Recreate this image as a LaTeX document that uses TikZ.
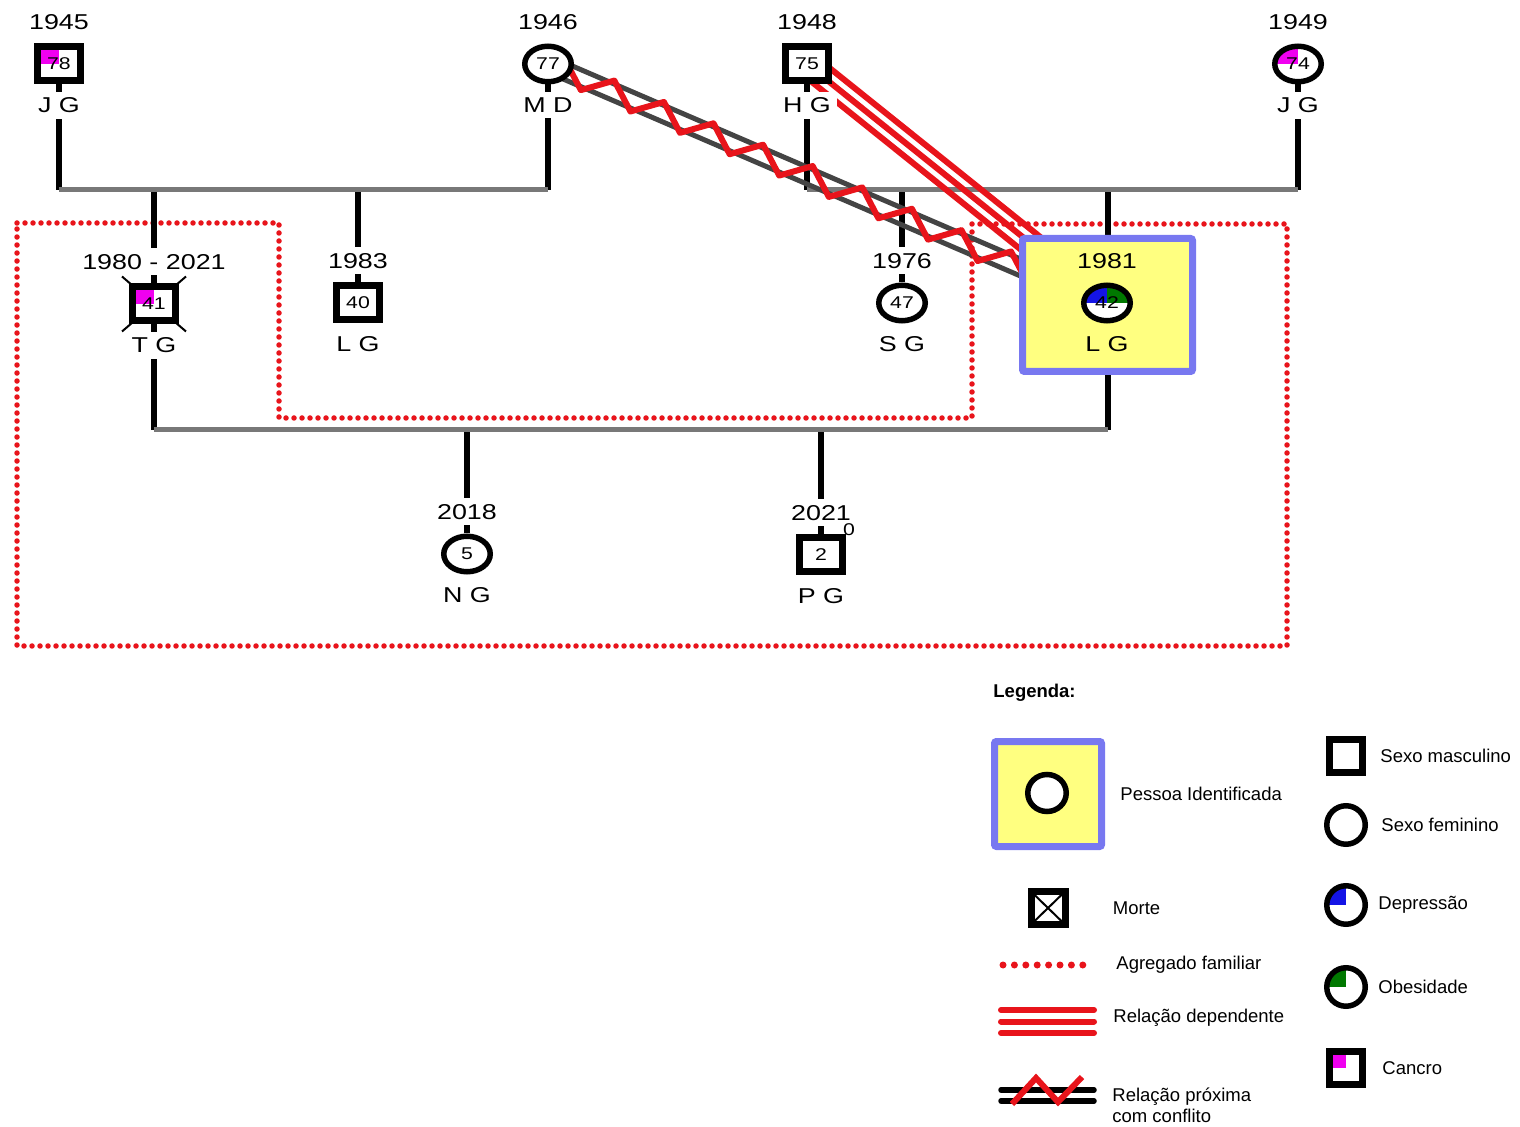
\documentclass[tikz,border=0pt]{standalone}
\usepackage{fontspec}
\setmainfont{Liberation Sans}
\newfontfamily\widefont[FakeStretch=1.25]{Liberation Sans}
\usepackage{tikz}
\usetikzlibrary{shapes.geometric, positioning, calc, backgrounds, decorations.pathmorphing}
\definecolor{famred}{RGB}{232,20,27}
\definecolor{unioncol}{RGB}{120,120,120}
\definecolor{closegray}{RGB}{68,68,68}
\definecolor{idfill}{RGB}{255,255,128}
\definecolor{iddraw}{RGB}{120,120,240}
\definecolor{cancmag}{RGB}{240,0,240}
\definecolor{deprblue}{RGB}{20,20,230}
\definecolor{obesgreen}{RGB}{0,120,0}
\newcommand{\labfont}{\widefont\fontsize{10.75pt}{12pt}\selectfont}
\newcommand{\agefont}{\widefont\fontsize{8.5pt}{10pt}\selectfont}
\newcommand{\legfont}{\fontsize{9.25pt}{10.5pt}\selectfont}
\tikzset{
  male/.style={rectangle, draw=black, fill=white, line width=3.5pt,
    minimum width=21.5pt, minimum height=17pt, inner sep=0pt, font=\agefont},
  female/.style={ellipse, draw=black, fill=white, line width=2.75pt,
    minimum width=23.25pt, minimum height=17.75pt, inner sep=0pt, font=\agefont},
  tlq/.style={path picture={\fill[#1] (path picture bounding box.center)
    rectangle (path picture bounding box.north west);}},
  tltrq/.style 2 args={path picture={
    \fill[#1] (path picture bounding box.center) rectangle (path picture bounding box.north west);
    \fill[#2] (path picture bounding box.center) rectangle (path picture bounding box.north east);}},
  dead/.style={path picture={\draw[line width=1pt]
    (path picture bounding box.north west) -- (path picture bounding box.south east)
    (path picture bounding box.north east) -- (path picture bounding box.south west);}},
  idframe/.style={rectangle, draw=iddraw, fill=idfill, line width=3.5pt, rounded corners=1pt},
  yearlab/.style={above=3.9pt of #1, fill=white, inner sep=3pt, font=\labfont},
  namelab/.style={below=3.4pt of #1, fill=white, inner sep=3pt, font=\labfont},
  kin/.style={black, line width=3pt},
  union/.style={unioncol, line width=2.5pt},
  household/.style={famred, line width=2.75pt, line cap=round, dash pattern=on 0pt off 4pt},
  depline/.style={famred, line width=3pt},
  closeline/.style={closegray, line width=2.5pt},
  conflict/.style={famred, line width=3pt, line join=round, decorate,
    decoration={zigzag, segment length=27pt, amplitude=5.5pt}},
  legtext/.style={font=\legfont, inner sep=0pt, anchor=west, align=left}
}
\begin{document}
\begin{tikzpicture}[x=0.5pt, y=-0.5pt]
  \useasboundingbox (0,0) rectangle (1520,1127);

  % Grandparents
  \node[male, tlq=cancmag] (jg1) at (59,64) {78};
  \node[female] (md) at (548,64) {77};
  \node[male] (hg) at (807,64) {75};
  \node[female, tlq=cancmag] (jg2) at (1298,64) {74};
  \node[yearlab=jg1] (jg1Y) {1945};
  \node[yearlab=md] (mdY) {1946};
  \node[yearlab=hg] (hgY) {1948};
  \node[yearlab=jg2] (jg2Y) {1949};
  \node[namelab=jg1] (jg1N) {J G};
  \node[namelab=md] (mdN) {M D};
  \node[namelab=hg] (hgN) {H G};
  \node[namelab=jg2] (jg2N) {J G};

  % Children
  \node[male, tlq=cancmag] (tg) at (154,304) {41};
  \node[male] (lgb) at (358,303) {40};
  \node[female] (sg) at (902,303) {47};
  \node[idframe, minimum width=85pt, minimum height=66.5pt] (lgid) at (1107.5,305) {};
  \node[female, tltrq={deprblue}{obesgreen}] (lg) at (1107,303) {42};
  \node[yearlab=tg] (tgY) {1980 - 2021};
  \node[yearlab=lgb] (lgbY) {1983};
  \node[yearlab=sg] (sgY) {1976};
  \node[yearlab=lg, fill=none] (lgY) {1981};
  \node[namelab=tg] (tgN) {T G};
  \node[namelab=lgb] (lgbN) {L G};
  \node[namelab=sg] (sgN) {S G};
  \node[namelab=lg, fill=none] (lgN) {L G};

  % Grandchildren
  \node[female] (ng) at (467,554) {5};
  \node[male] (pg) at (821,555) {2};
  \node[yearlab=ng] (ngY) {2018};
  \node[yearlab=pg] (pgY) {2021};
  \node[namelab=ng] (ngN) {N G};
  \node[namelab=pg] (pgN) {P G};
  \node[font=\agefont, inner sep=0pt] (pgZ) at (849,530) {0};

  \begin{pgfonlayer}{background}
    \coordinate (bar1) at (0,190);
    \coordinate (bar2) at (0,430);
    % Household
    \draw[household] (17,223) -| (279,418) -| (972,224) -| (1287,646) -| cycle;
    % Lines of descent
    \foreach \p in {jg1, md, hg, jg2} \draw[kin] (\p) -- (\p |- bar1);
    \foreach \c in {tg, lgb, sg, lgid} \draw[kin] (\c |- bar1) -- (\c);
    \foreach \p in {tg, lgid} \draw[kin] (\p) -- (\p |- bar2);
    \foreach \c in {ng, pg} \draw[kin] (\c |- bar2) -- (\c);
    \draw[union] (jg1 |- bar1) -- (md |- bar1);
    \draw[union] (hg |- bar1) -- (jg2 |- bar1);
    \draw[union] (tg |- bar2) -- (lgid |- bar2);
    % Relations
    \foreach \s in {-3.9pt, 3.9pt}
      \draw[closeline] ($(md)!\s!90:(lgid)$) -- ($(lgid)!\s!-90:(md)$);
    \draw[conflict] (md.center) -- (lgid.center);
    \foreach \s in {-5.5pt, 0pt, 5.5pt}
      \draw[depline] ($(hg)!\s!90:(lgid)$) -- ($(lgid)!\s!-90:(hg)$);
    % Death cross
    \draw[line width=1pt] ($(tg)+(-32,-27.5)$) -- ($(tg)+(32,27.5)$)
      ($(tg)+(32,-27.5)$) -- ($(tg)+(-32,27.5)$);
  \end{pgfonlayer}

  % Legend
  \node[legtext, font=\legfont\bfseries] (legT) at (993,693) {Legenda:};
  \node[idframe, minimum width=53.5pt, minimum height=52.5pt] (legid) at (1048,794) {};
  \node[female, minimum width=19.25pt, minimum height=18.5pt] (legidc) at (1047,793) {};
  \node[legtext, right=7.5pt of legid] (legidT) {Pessoa Identificada};
  \node[male, minimum width=16.5pt, minimum height=16.5pt] (legm) at (1346,756) {};
  \node[legtext, right=7pt of legm] (legmT) {Sexo masculino};
  \node[female, minimum width=19.25pt, minimum height=19.25pt] (legf) at (1346,825) {};
  \node[legtext, right=6.5pt of legf] (legfT) {Sexo feminino};
  \node[male, dead, minimum width=17pt, minimum height=16.5pt] (legd) at (1048,908) {};
  \node[legtext, right=22pt of legd] (legdT) {Morte};
  \node[female, tlq=deprblue, minimum width=19.25pt, minimum height=19.25pt] (legdep) at (1346,905) {};
  \node[legtext, right=5pt of legdep] (legdepT) {Depressão};
  \node[female, tlq=obesgreen, minimum width=19.25pt, minimum height=19.25pt] (legob) at (1346,987) {};
  \node[legtext, right=5pt of legob] (legobT) {Obesidade};
  \node[male, tlq=cancmag, minimum width=16.5pt, minimum height=16.5pt] (legc) at (1346,1068) {};
  \node[legtext, right=8pt of legc] (legcT) {Cancro};

  \coordinate (agA) at (1003,965);
  \coordinate (agB) at (1084,965);
  \draw[household, line width=3.5pt, dash pattern=on 0pt off 5.7pt] (agA) -- (agB);
  \node[legtext] (legagT) at (1116,965) {Agregado familiar};

  \foreach \y in {1010,1021.5,1033}
    \draw[depline, line cap=round] (1001,\y) -- (1094,\y);
  \node[legtext] (legdpT) at (1113,1018) {Relação dependente};

  \foreach \y in {1090,1101}
    \draw[kin, line width=2.75pt, line cap=round] (1001,\y) -- (1094,\y);
  \draw[famred, line width=3pt] (1012,1104) -- (1036,1078) -- (1058,1102) -- (1082,1077);
  \node[legtext] (legclT) at (1112,1105.5) {Relação próxima\\com conflito};
\end{tikzpicture}
\end{document}
